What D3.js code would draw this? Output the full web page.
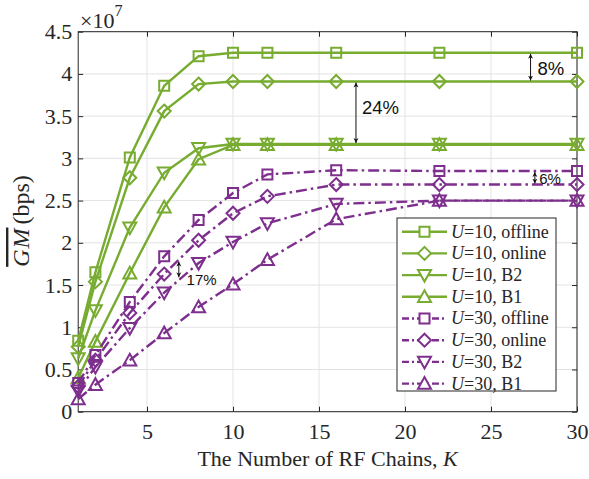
<!DOCTYPE html>
<html>
<head>
<meta charset="utf-8">
<script src="https://cdn.jsdelivr.net/npm/d3@7/dist/d3.min.js"></script>
<style>
  body { margin: 0; background: #fff; }
  svg text { font-family: "Liberation Serif", "Times New Roman", serif; fill: #262626; }
  svg text.pct { font-family: "Liberation Sans", Arial, sans-serif; fill: #111; }
</style>
</head>
<body>
<svg id="chart" width="589" height="479"></svg>
<script>
// Number of RF chains K
const rfChains = [1, 2, 4, 6, 8, 10, 12, 16, 22, 30];

// Geometric-mean throughput, units of 1e7 bps
const u10Offline = [0.84, 1.65, 3.01, 3.86, 4.21, 4.25, 4.25, 4.25, 4.25, 4.25];
const u10Online  = [0.77, 1.54, 2.77, 3.56, 3.88, 3.91, 3.91, 3.91, 3.91, 3.91];
const u10B2      = [0.63, 1.20, 2.18, 2.83, 3.12, 3.17, 3.17, 3.17, 3.17, 3.17];
const u10B1      = [0.40, 0.83, 1.64, 2.42, 2.99, 3.16, 3.16, 3.16, 3.16, 3.16];
const u30Offline = [0.34, 0.67, 1.30, 1.84, 2.27, 2.59, 2.81, 2.86, 2.85, 2.85];
const u30Online  = [0.30, 0.61, 1.17, 1.63, 2.03, 2.35, 2.55, 2.69, 2.69, 2.69];
const u30B2      = [0.25, 0.53, 0.99, 1.41, 1.76, 2.01, 2.23, 2.46, 2.50, 2.50];
const u30B1      = [0.15, 0.32, 0.61, 0.93, 1.24, 1.51, 1.80, 2.28, 2.50, 2.50];

const legendUsers  = ["10", "10", "10", "10", "30", "30", "30", "30"];
const legendSchemes = ["offline", "online", "B2", "B1", "offline", "online", "B2", "B1"];

const xTicks = [5, 10, 15, 20, 25, 30];
const yTicks = [0, 0.5, 1, 1.5, 2, 2.5, 3, 3.5, 4, 4.5];
const yTickLabels = ["0", "0.5", "1", "1.5", "2", "2.5", "3", "3.5", "4", "4.5"];

// Gap annotations: [K, upper value, lower value, text, text K, text value]
const gapNotes = [
  [17.15, 3.91, 3.17, "24%", 17.5, 3.6],
  [27.3, 4.25, 3.91, "8%", 27.7, 4.06],
  [27.55, 2.85, 2.69, "6%", 27.8, 2.76],
  [6.85, 1.79, 1.58, "17%", 7.3, 1.56]
];

const GREEN = "#77AC30", PURPLE = "#7E2F8E";
const DASHDOT = "11,4,2.5,4";
const series = [
  { v: u10Offline, c: GREEN, m: "square", dash: null },
  { v: u10Online,  c: GREEN, m: "diamond", dash: null },
  { v: u10B2,      c: GREEN, m: "down", dash: null },
  { v: u10B1,      c: GREEN, m: "up", dash: null },
  { v: u30Offline, c: PURPLE, m: "square", dash: DASHDOT },
  { v: u30Online,  c: PURPLE, m: "diamond", dash: DASHDOT },
  { v: u30B2,      c: PURPLE, m: "down", dash: DASHDOT },
  { v: u30B1,      c: PURPLE, m: "up", dash: DASHDOT }
];

const svg = d3.select("#chart");
const L = 78.2, R = 577, T = 31.7, B = 411.7;
const x = d3.scaleLinear().domain([1, 30]).range([L, R]);
const y = d3.scaleLinear().domain([0, 4.5]).range([B, T]);
const SERIF = '"Liberation Serif", "Times New Roman", serif';

// grid
const grid = svg.append("g");
grid.selectAll("line.gx").data(xTicks).join("line")
  .attr("x1", d => x(d)).attr("x2", d => x(d)).attr("y1", T).attr("y2", B)
  .attr("stroke", "#e3e3e3").attr("stroke-width", 1);
grid.selectAll("line.gy").data(yTicks).join("line")
  .attr("y1", d => y(d)).attr("y2", d => y(d)).attr("x1", L).attr("x2", R)
  .attr("stroke", "#e3e3e3").attr("stroke-width", 1);

// axes (ticks inward, box on)
const axisColor = "#262626";
const xAxis = svg.append("g").attr("transform", `translate(0,${B})`)
  .call(d3.axisBottom(x).tickValues(xTicks).tickSizeInner(-5).tickSizeOuter(0).tickPadding(12));
const xTop = svg.append("g").attr("transform", `translate(0,${T})`)
  .call(d3.axisTop(x).tickValues(xTicks).tickSizeInner(-5).tickSizeOuter(0).tickFormat(""));
const yAxis = svg.append("g").attr("transform", `translate(${L},0)`)
  .call(d3.axisLeft(y).tickValues(yTicks).tickSizeInner(-5).tickSizeOuter(0).tickPadding(6)
    .tickFormat((d, i) => yTickLabels[i]));
const yRight = svg.append("g").attr("transform", `translate(${R},0)`)
  .call(d3.axisRight(y).tickValues(yTicks).tickSizeInner(-5).tickSizeOuter(0).tickFormat(""));
[xAxis, xTop, yAxis, yRight].forEach(g => {
  g.attr("font-family", null).attr("font-size", null);
  g.select(".domain").remove();
  g.selectAll("line").attr("stroke", axisColor);
  g.selectAll("text").style("font-family", SERIF).style("font-size", "22px").attr("fill", axisColor);
});
xAxis.selectAll("text").attr("dy", "0.71em").attr("y", 12);
svg.append("rect").attr("x", L).attr("y", T).attr("width", R - L).attr("height", B - T)
  .attr("fill", "none").attr("stroke", axisColor).attr("stroke-width", 1);

// exponent label
const expo = svg.append("text").attr("x", 80).attr("y", 28).style("font-size", "22px");
expo.append("tspan").text("×10");
expo.append("tspan").attr("dy", -12).style("font-size", "16px").text("7");

// axis titles
const xt = svg.append("text").attr("x", (L + R) / 2).attr("y", 466).attr("text-anchor", "middle").style("font-size", "22px");
xt.append("tspan").text("The Number of RF Chains, ");
xt.append("tspan").attr("font-style", "italic").text("K");

const yt = svg.append("text").attr("transform", "translate(29,221) rotate(-90)")
  .attr("text-anchor", "middle").style("font-size", "24px");
yt.append("tspan").attr("font-style", "italic").style("text-decoration", "overline").attr("letter-spacing", 1).text("GM");
yt.append("tspan").attr("dx", 3).text("(bps)");

// marker shapes
function markerPath(kind, cx, cy) {
  if (kind === "square") { const s = 5; return `M${cx - s},${cy - s}h${2 * s}v${2 * s}h${-2 * s}Z`; }
  if (kind === "diamond") { const s = 6.5; return `M${cx},${cy - s}L${cx + s},${cy}L${cx},${cy + s}L${cx - s},${cy}Z`; }
  if (kind === "down") { const w = 6.5, h = 6.5; return `M${cx - w},${cy - h * 0.8}L${cx + w},${cy - h * 0.8}L${cx},${cy + h}Z`; }
  const w = 6.5, h = 6.5; return `M${cx - w},${cy + h * 0.8}L${cx + w},${cy + h * 0.8}L${cx},${cy - h}Z`;
}

const line = d3.line().x((d, i) => x(rfChains[i])).y(d => y(d));
const plot = svg.append("g");
series.forEach(s => {
  const g = plot.append("g");
  g.append("path").attr("d", line(s.v)).attr("fill", "none").attr("stroke", s.c)
    .attr("stroke-width", 2.4).attr("stroke-dasharray", s.dash);
  g.selectAll("path.mk").data(s.v).join("path").attr("class", "mk")
    .attr("d", (d, i) => markerPath(s.m, x(rfChains[i]), y(d)))
    .attr("fill", "none").attr("stroke", s.c).attr("stroke-width", 2);
});

// arrowheads
const defs = svg.append("defs");
defs.append("marker").attr("id", "ah").attr("viewBox", "0 0 10 10").attr("refX", 10).attr("refY", 5)
  .attr("markerWidth", 5).attr("markerHeight", 7).attr("markerUnits", "userSpaceOnUse").attr("orient", "auto-start-reverse")
  .append("path").attr("d", "M0,0L10,5L0,10L3,5Z").attr("fill", "#111");

const notes = svg.append("g");
gapNotes.forEach(n => {
  notes.append("line").attr("x1", x(n[0])).attr("x2", x(n[0])).attr("y1", y(n[1]) + 1).attr("y2", y(n[2]) - 1)
    .attr("stroke", "#111").attr("stroke-width", 1)
    .attr("marker-start", "url(#ah)").attr("marker-end", "url(#ah)");
  notes.append("text").attr("class", "pct").attr("x", x(n[4])).attr("y", y(n[5]))
    .attr("dy", "0.35em").style("font-size", (n[3] === "24%" || n[3] === "8%") ? "18.5px" : "15px").text(n[3]);
});

// legend
const lg = svg.append("g");
const lx = 397, ly = 218, lw = 159, lh = 173, row = 21.7;
lg.append("rect").attr("x", lx).attr("y", ly).attr("width", lw).attr("height", lh)
  .attr("fill", "#fff").attr("stroke", "#262626").attr("stroke-width", 1);
series.forEach((s, i) => {
  const cy = ly + 13.7 + i * row;
  lg.append("line").attr("x1", lx + 5).attr("x2", lx + 50).attr("y1", cy).attr("y2", cy)
    .attr("stroke", s.c).attr("stroke-width", 2.4).attr("stroke-dasharray", s.dash ? "7,3,2,3" : null);
  lg.append("path").attr("d", markerPath(s.m, lx + 27.5, cy)).attr("fill", "#fff").attr("stroke", s.c).attr("stroke-width", 2);
  const t = lg.append("text").attr("x", lx + 54).attr("y", cy).attr("dy", "0.33em").style("font-size", "18px");
  t.append("tspan").attr("font-style", "italic").text("U");
  t.append("tspan").text(`=${legendUsers[i]}, ${legendSchemes[i]}`);
});
</script>
</body>
</html>
